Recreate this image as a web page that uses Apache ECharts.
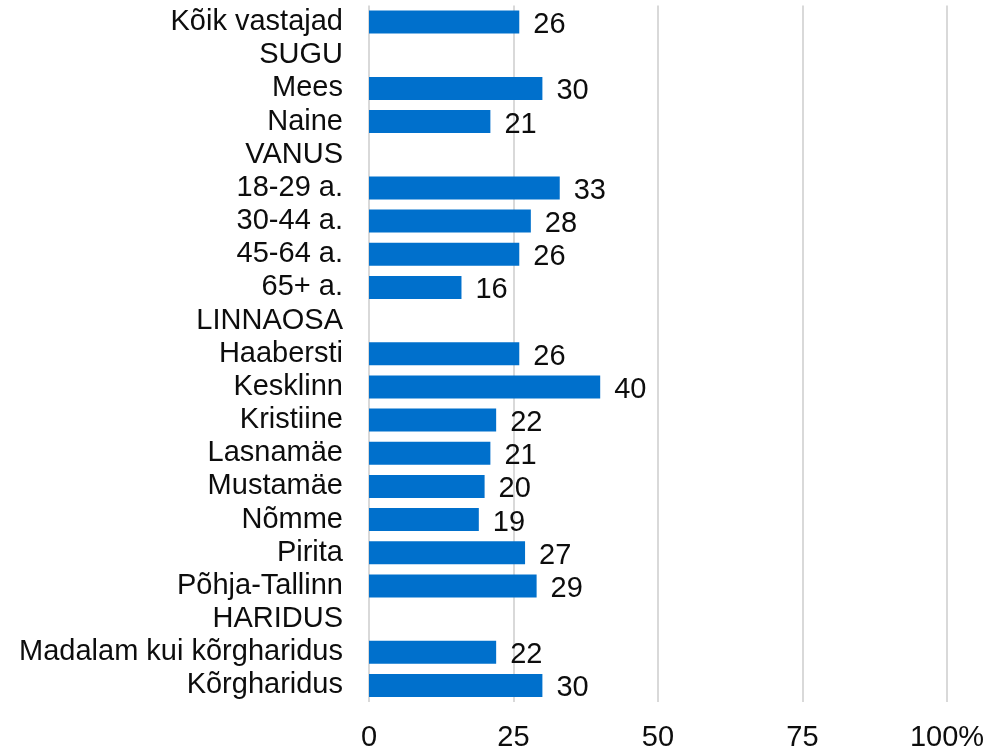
<!DOCTYPE html>
<html>
<head>
<meta charset="utf-8">
<title>Vastajad rühmade kaupa</title>
<script src="https://cdn.jsdelivr.net/npm/echarts@6/dist/echarts.min.js"></script>
<style>
  html, body { margin: 0; padding: 0; background: #fff; }
  #chart { width: 1002px; height: 752px; }
</style>
</head>
<body>
<div id="chart"></div>
<script>
// Groups listed top to bottom; section headings carry no value.
const categories = [
  'Kõik vastajad', 'SUGU', 'Mees', 'Naine', 'VANUS',
  '18-29 a.', '30-44 a.', '45-64 a.', '65+ a.', 'LINNAOSA',
  'Haabersti', 'Kesklinn', 'Kristiine', 'Lasnamäe', 'Mustamäe',
  'Nõmme', 'Pirita', 'Põhja-Tallinn', 'HARIDUS',
  'Madalam kui kõrgharidus', 'Kõrgharidus'
];
const values = [
  26, null, 30, 21, null,
  33, 28, 26, 16, null,
  26, 40, 22, 21, 20,
  19, 27, 29, null,
  22, 30
];
const xTicks = [0, 25, 50, 75, 100];

const chart = echarts.init(document.getElementById('chart'));
const font = '"Liberation Sans", Arial, sans-serif';

chart.setOption({
  animation: false,
  grid: { left: 369, right: 55, top: 5.5, bottom: 48.5, containLabel: false },
  xAxis: {
    type: 'value',
    min: xTicks[0],
    max: xTicks[xTicks.length - 1],
    interval: 25,
    axisLine: { show: false },
    axisTick: { show: false },
    splitLine: { show: true, lineStyle: { color: '#d9d9d9', width: 2 } },
    axisLabel: {
      margin: 21,
      fontFamily: font,
      fontSize: 29,
      color: '#0d0d0d',
      formatter: v => (v === 100 ? '100%' : String(v))
    }
  },
  yAxis: {
    type: 'category',
    inverse: true,
    data: categories,
    axisLine: { show: false },
    axisTick: { show: false },
    axisLabel: {
      interval: 0,
      margin: 26,
      fontFamily: font,
      fontSize: 29,
      color: '#0d0d0d'
    }
  },
  series: [{
    type: 'bar',
    data: values,
    barWidth: 23,
    itemStyle: { color: '#0070cc' },
    label: {
      show: true,
      position: 'right',
      distance: 14,
      offset: [0, 3],
      fontFamily: font,
      fontSize: 29,
      color: '#0d0d0d'
    }
  }]
});
</script>
</body>
</html>
